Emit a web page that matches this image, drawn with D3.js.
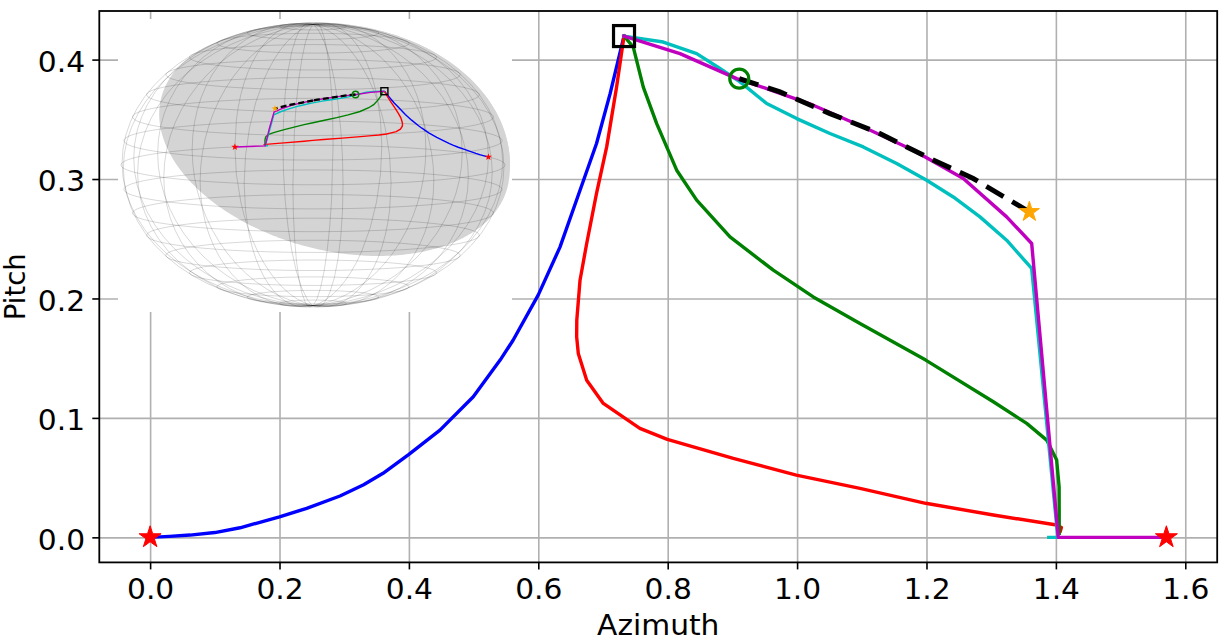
<!DOCTYPE html>
<html>
<head>
<meta charset="utf-8">
<script src="https://cdn.jsdelivr.net/npm/d3@7"></script>
<style>
  html, body { margin: 0; padding: 0; background: #fff; }
  svg text { font-family: "DejaVu Sans", sans-serif; }
</style>
</head>
<body>
<div id="chart"></div>
<div id="error"></div>
<script>
// ---- data (azimuth, pitch) ----
const xTicks = [0.0, 0.2, 0.4, 0.6, 0.8, 1.0, 1.2, 1.4, 1.6];
const yTicks = [0.0, 0.1, 0.2, 0.3, 0.4];

const bluePts = [[0,0],[0.03,0.0008],[0.0617,0.0019],[0.1,0.004],[0.139,0.008],[0.2,0.0172],[0.242,0.0243],
  [0.2935,0.0346],[0.33,0.044],[0.36,0.0536],[0.4,0.0695],[0.448,0.0898],[0.4995,0.1177],[0.541,0.1484],
  [0.561,0.165],[0.6,0.203],[0.6335,0.243],[0.6645,0.2906],[0.69,0.3297],[0.711,0.3715],[0.7325,0.4197]];
const redPts = [[0.7325,0.4197],[0.721,0.377],[0.7057,0.3269],[0.69,0.2879],[0.6748,0.246],[0.6645,0.2153],
  [0.6595,0.1818],[0.6593,0.1679],[0.6618,0.154],[0.6748,0.1316],[0.7005,0.1121],[0.7366,0.0987],[0.757,0.0912],
  [0.7994,0.082],[0.8396,0.0758],[0.9014,0.0661],[0.9988,0.0521],[1.0972,0.041],[1.1988,0.0285],[1.3033,0.0187],
  [1.4012,0.0103],[1.4085,0.0082],[1.407,0.0055]];
const greenPts = [[0.7325,0.4197],[0.7468,0.4105],[0.7623,0.377],[0.783,0.3464],[0.8139,0.3074],[0.8448,0.2823],
  [0.8963,0.2515],[0.9632,0.2237],[1.025,0.2013],[1.0972,0.179],[1.1988,0.1484],[1.3033,0.1135],[1.3549,0.0954],
  [1.3858,0.0814],[1.4012,0.0647],[1.405,0.0423],[1.4052,0.0033]];
const cyanPts = [[0.7325,0.4197],[0.7932,0.4147],[0.8448,0.405],[0.8808,0.3925],[0.9118,0.3813],[0.953,0.3632],
  [0.9994,0.3506],[1.0508,0.3381],[1.1023,0.3269],[1.1539,0.313],[1.2003,0.299],[1.2414,0.285],[1.2827,0.2683],
  [1.3239,0.2488],[1.3626,0.2251],[1.403,0.0],[1.389,0.0]];
const magentaPts = [[0.7325,0.4197],[0.819,0.405],[0.9067,0.3841],[0.953,0.3757],[1.025,0.3618],[1.1023,0.3436],
  [1.1796,0.3241],[1.2569,0.3004],[1.3239,0.2683],[1.3626,0.246],[1.4037,0.0],[1.5708,0.0]];
const dashedPts = [[0.9106,0.3841],[0.9736,0.3729],[1.0508,0.3548],[1.128,0.3381],[1.2054,0.3172],
  [1.2723,0.3004],[1.359,0.2725]];

const squarePt = [0.7325, 0.4197];
const circlePt = [0.9106, 0.3841];
const redStars = [[0, 0], [1.5708, 0]];
const orangeStar = [1.359, 0.2725];

document.addEventListener('DOMContentLoaded', function() {
  try {
    if (typeof d3 === 'undefined') throw new Error('D3 library is not loaded');

    const W = 1224, H = 641;
    const svg = d3.select("#chart").append("svg").attr("width", W).attr("height", H);

    const series = [
      {pts: bluePts, color: "#0000ff"},
      {pts: redPts, color: "#ff0000"},
      {pts: greenPts, color: "#008000"},
      {pts: cyanPts, color: "#00bfbf"},
      {pts: magentaPts, color: "#bf00bf"}
    ];

    // matplotlib style 5% margins around all data
    const allPts = series.flatMap(s => s.pts);
    const xe = d3.extent(allPts, d => d[0]), ye = d3.extent(allPts, d => d[1]);
    const xm = (xe[1] - xe[0]) * 0.05, ym = (ye[1] - ye[0]) * 0.05;

    const box = {left: 99.3, right: 1217.2, top: 11, bottom: 562.4};
    const x = d3.scaleLinear().domain([xe[0] - xm, xe[1] + xm]).range([box.left, box.right]);
    const y = d3.scaleLinear().domain([ye[0] - ym, ye[1] + ym]).range([box.bottom, box.top]);

    // grid
    svg.append("g").attr("transform", `translate(0,${box.bottom})`)
      .call(d3.axisBottom(x).tickValues(xTicks).tickSize(-(box.bottom - box.top)).tickFormat(""))
      .call(g => g.select(".domain").remove())
      .call(g => g.selectAll("line").attr("stroke", "#b0b0b0").attr("stroke-width", 1.6));
    svg.append("g").attr("transform", `translate(${box.left},0)`)
      .call(d3.axisLeft(y).tickValues(yTicks).tickSize(-(box.right - box.left)).tickFormat(""))
      .call(g => g.select(".domain").remove())
      .call(g => g.selectAll("line").attr("stroke", "#b0b0b0").attr("stroke-width", 1.6));

    const line = d3.line().x(d => x(d[0])).y(d => y(d[1]));

    series.forEach(s => {
      svg.append("path").attr("d", line(s.pts)).attr("fill", "none")
        .attr("stroke", s.color).attr("stroke-width", 3.4)
        .attr("stroke-linejoin", "round").attr("stroke-linecap", "square");
    });
    svg.append("path").attr("d", line(dashedPts)).attr("fill", "none")
      .attr("stroke", "#000").attr("stroke-width", 5).attr("stroke-dasharray", "20,10");

    // markers
    svg.append("rect").attr("x", x(squarePt[0]) - 10.5).attr("y", y(squarePt[1]) - 10.5)
      .attr("width", 21).attr("height", 21).attr("fill", "none").attr("stroke", "#000").attr("stroke-width", 3.2);
    svg.append("circle").attr("cx", x(circlePt[0])).attr("cy", y(circlePt[1])).attr("r", 9.5)
      .attr("fill", "none").attr("stroke", "#008000").attr("stroke-width", 3.2);
    const star = d3.symbol().type(d3.symbolStar);
    svg.selectAll(".rstar").data(redStars).enter().append("path")
      .attr("transform", d => `translate(${x(d[0])},${y(d[1])})`)
      .attr("d", star.size(150)()).attr("fill", "#ff0000").attr("stroke", "#ff0000").attr("stroke-width", 1);
    svg.append("path").attr("transform", `translate(${x(orangeStar[0])},${y(orangeStar[1])})`)
      .attr("d", star.size(125)()).attr("fill", "#ffa500").attr("stroke", "#ffa500").attr("stroke-width", 1);

    // ---- inset: trajectories on the sphere ----
    const inset = {left: 118, right: 512, top: 19, bottom: 312};
    const ig = svg.append("g");
    ig.append("rect").attr("x", inset.left).attr("y", inset.top)
      .attr("width", inset.right - inset.left).attr("height", inset.bottom - inset.top).attr("fill", "#fff");

    const stretchTo = (cx, cy, rx, ry) => d3.geoTransform({
      point: function(px, py) { this.stream.point(cx + rx * px, cy + ry * py); }
    });
    const wireFit = {cx: 313, cy: 165, rx: 192, ry: 142};
    const shadeFit = {cx: 315, cy: 165, rx: 195, ry: 142.5};
    const stretchWire = stretchTo(wireFit.cx, wireFit.cy, wireFit.rx, wireFit.ry);
    const stretchShade = stretchTo(shadeFit.cx, shadeFit.cy, shadeFit.rx, shadeFit.ry);

    const view = [114, -8];
    const wireProj = d3.geoOrthographic().scale(1).translate([0, 0]).rotate(view).clipAngle(null).precision(0.002);
    const frontProj = d3.geoOrthographic().scale(1).translate([0, 0]).rotate(view).precision(0.002);
    const backProj = d3.geoOrthographic().scale(1).translate([0, 0]).rotate([view[0] - 180, -view[1]])
      .reflectX(true).precision(0.002);
    const pathOf = (p, st) => d3.geoPath({stream: s => p.stream(st.stream(s))});

    // shaded cap (back and front halves)
    const cap = d3.geoCircle().center([43, 26.5]).radius(73.5).precision(1)();
    [backProj, frontProj].forEach(p => {
      ig.append("path").attr("d", pathOf(p, stretchShade)(cap)).attr("fill", "#d4d4d4").attr("stroke", "none");
    });

    // wireframe
    const grat = d3.geoGraticule().extent([[-180, -89.99], [180, 89.99]]).step([15, 10]);
    ig.append("path").attr("d", pathOf(wireProj, stretchWire)(grat())).attr("fill", "none")
      .attr("stroke", "#000").attr("stroke-opacity", 0.22).attr("stroke-width", 0.7);

    const toGeo = pts => ({type: "LineString", coordinates: pts.map(d => [d[0] * 180 / Math.PI, d[1] * 180 / Math.PI])});
    const wirePath = pathOf(wireProj, stretchWire);
    series.forEach(s => {
      ig.append("path").attr("d", wirePath(toGeo(s.pts))).attr("fill", "none")
        .attr("stroke", s.color).attr("stroke-width", 1.4);
    });
    ig.append("path").attr("d", wirePath(toGeo(dashedPts))).attr("fill", "none")
      .attr("stroke", "#000").attr("stroke-width", 2.3).attr("stroke-dasharray", "6,3");

    const ip = d => {
      const q = wireProj([d[0] * 180 / Math.PI, d[1] * 180 / Math.PI]);
      return [wireFit.cx + wireFit.rx * q[0], wireFit.cy + wireFit.ry * q[1]];
    };
    const sq = ip(squarePt);
    ig.append("rect").attr("x", sq[0] - 3.5).attr("y", sq[1] - 3.5).attr("width", 7).attr("height", 7)
      .attr("fill", "none").attr("stroke", "#000").attr("stroke-width", 1.4);
    const ci = ip(circlePt);
    ig.append("circle").attr("cx", ci[0]).attr("cy", ci[1]).attr("r", 3.2)
      .attr("fill", "none").attr("stroke", "#008000").attr("stroke-width", 1.4);
    redStars.forEach(d => {
      const p = ip(d);
      ig.append("path").attr("transform", `translate(${p[0]},${p[1]})`).attr("d", star.size(16)()).attr("fill", "#ff0000");
    });
    const os = ip(orangeStar);
    ig.append("path").attr("transform", `translate(${os[0]},${os[1]})`).attr("d", star.size(14)()).attr("fill", "#ffa500");

    // ---- axes ----
    const fs = 27.5, sx = 1.08;   // text in the picture is slightly wider than tall
    const xAxis = svg.append("g").attr("transform", `translate(0,${box.bottom})`)
      .call(d3.axisBottom(x).tickValues(xTicks).tickSize(7).tickPadding(10).tickFormat(d3.format(".1f")));
    const yAxis = svg.append("g").attr("transform", `translate(${box.left},0)`)
      .call(d3.axisLeft(y).tickValues(yTicks).tickSize(7).tickPadding(7).tickFormat(d3.format(".1f")));
    [xAxis, yAxis].forEach(a => {
      a.select(".domain").remove();
      a.selectAll("line").attr("stroke", "#000").attr("stroke-width", 1.6);
      a.selectAll("text").attr("font-size", fs).attr("fill", "#000").attr("font-family", "DejaVu Sans");
    });
    xAxis.selectAll("text").attr("transform", `scale(${sx},1)`);
    yAxis.selectAll("text").attr("x", -14.3 / sx).attr("dy", "0.43em").attr("transform", `scale(${sx},1)`);

    svg.append("rect").attr("x", box.left).attr("y", box.top)
      .attr("width", box.right - box.left).attr("height", box.bottom - box.top)
      .attr("fill", "none").attr("stroke", "#000").attr("stroke-width", 1.8);

    svg.append("text").attr("transform", `translate(${(box.left + box.right) / 2},635) scale(${sx},1)`)
      .attr("text-anchor", "middle").attr("font-size", fs).text("Azimuth");
    svg.append("text").attr("transform", `translate(24.5,${(box.top + box.bottom) / 2}) rotate(-90)`)
      .attr("text-anchor", "middle").attr("font-size", fs).text("Pitch");

  } catch (error) {
    console.error('Error:', error);
    document.getElementById('error').textContent = 'Error: ' + error.message;
  }
});
</script>
</body>
</html>
